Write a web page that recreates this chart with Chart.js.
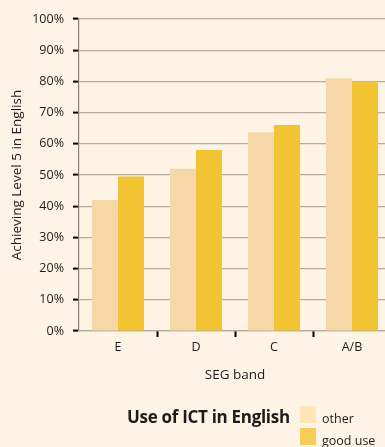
<!DOCTYPE html>
<html>
<head>
<meta charset="utf-8">
<script src="https://cdn.jsdelivr.net/npm/chart.js@4"></script>
<style>
    html, body {
        margin: 0;
        padding: 0;
        width: 385px;
        height: 447px;
        overflow: hidden;
        background: #fdf4e6;
        font-family: "Open Sans", "Noto Sans", sans-serif;
        color: #1e1b1c;
    }
    .wrap {
        position: relative;
        width: 395px;
        height: 447px;
    }
    #segChart {
        position: absolute;
        left: 0;
        top: 0;
    }
    .key {
        position: absolute;
        left: 0;
        top: 0;
        width: 385px;
        height: 447px;
        pointer-events: none;
    }
    .key-title {
        position: absolute;
        left: 127px;
        top: 405px;
        font-size: 17px;
        font-weight: 700;
        letter-spacing: -0.3px;
        white-space: nowrap;
    }
    .swatch {
        position: absolute;
        left: 300px;
        width: 16px;
        height: 17px;
    }
    .key-label {
        position: absolute;
        left: 322px;
        font-size: 12.5px;
        white-space: nowrap;
    }
</style>
</head>
<body>
<div class="wrap">
    <canvas id="segChart" width="395" height="447"></canvas>
    <div class="key">
        <div class="key-title">Use of ICT in English</div>
        <div class="swatch" style="top:406px;background:#fde7b6"></div>
        <div class="key-label" style="top:410px">other</div>
        <div class="swatch" style="top:428px;background:#f6cd58"></div>
        <div class="key-label" style="top:432px">good use</div>
    </div>
</div>
<script>
    // SEG bands and the share of pupils reaching Level 5
    const bands = ['E', 'D', 'C', 'A/B'];
    const otherUse = [42, 52, 63.7, 81];
    const goodUse = [49.5, 58, 66, 80];
    const yTicks = [0, 10, 20, 30, 40, 50, 60, 70, 80, 90, 100];

    const textColor = '#1e1b1c';
    const fontFamily = '"Open Sans", "Noto Sans", sans-serif';

    const ctx = document.getElementById('segChart').getContext('2d');

    const segChart = new Chart(ctx, {
        type: 'bar',
        data: {
            labels: bands,
            datasets: [
                {
                    label: 'other',
                    data: otherUse,
                    backgroundColor: '#f6d8a8'
                },
                {
                    label: 'good use',
                    data: goodUse,
                    backgroundColor: '#f2c332'
                }
            ]
        },
        options: {
            responsive: false,
            animation: false,
            categoryPercentage: 0.667,
            barPercentage: 1,
            layout: {
                padding: { top: 19, right: 4, bottom: 60, left: 0 }
            },
            scales: {
                y: {
                    min: 0,
                    max: 100,
                    afterBuildTicks: (scale) => {
                        scale.ticks = yTicks.map(v => ({ value: v }));
                    },
                    afterFit: (scale) => {
                        scale.width = 79;
                    },
                    ticks: {
                        color: textColor,
                        padding: 9,
                        font: { family: fontFamily, size: 12.5 },
                        callback: (v) => v + '%'
                    },
                    grid: {
                        color: '#b9ab9c',
                        lineWidth: 1.2,
                        tickLength: 6,
                        tickColor: '#000',
                        tickWidth: 2
                    },
                    border: {
                        color: '#8c8177',
                        width: 1.2
                    },
                    title: {
                        display: true,
                        text: 'Achieving Level 5 in English',
                        color: textColor,
                        font: { family: fontFamily, size: 13.5 },
                        padding: { top: 9, bottom: 0 }
                    }
                },
                x: {
                    afterFit: (scale) => {
                        scale.height = 56;
                    },
                    ticks: {
                        color: textColor,
                        padding: 3,
                        font: { family: fontFamily, size: 12.5 }
                    },
                    grid: {
                        drawOnChartArea: false,
                        tickLength: 6,
                        tickWidth: 2,
                        tickColor: (c) => (c.index > 0 ? '#000' : 'rgba(0,0,0,0)')
                    },
                    border: {
                        color: '#b9ab9c',
                        width: 1.2
                    },
                    title: {
                        display: true,
                        text: 'SEG band',
                        color: textColor,
                        font: { family: fontFamily, size: 13.5 },
                        padding: { top: 0, bottom: 4 }
                    }
                }
            },
            plugins: {
                legend: { display: false },
                tooltip: { enabled: false }
            }
        }
    });
</script>
</body>
</html>
